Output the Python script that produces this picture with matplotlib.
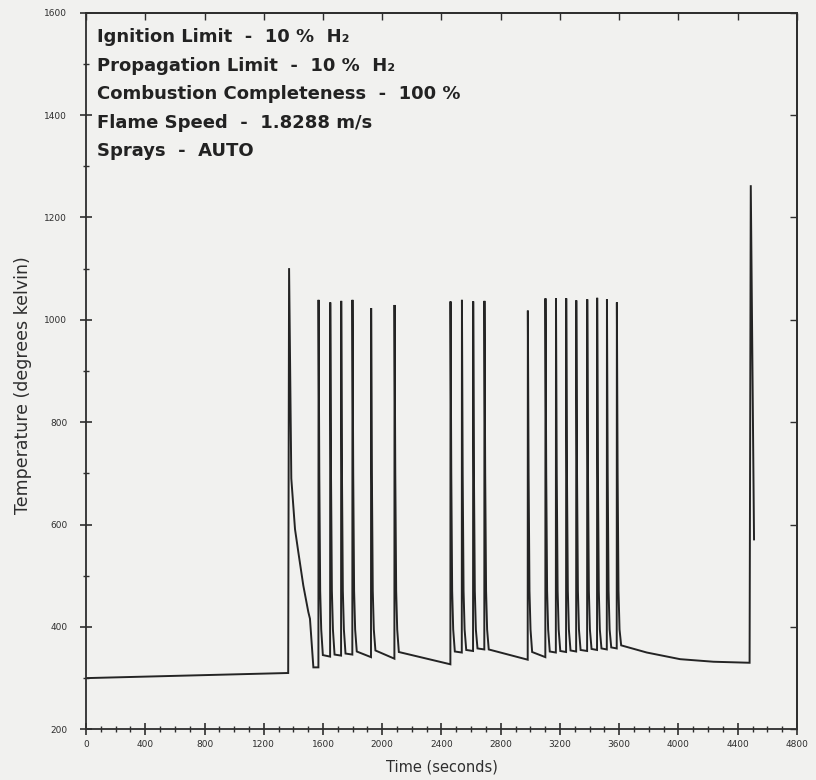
import numpy as np
import matplotlib
matplotlib.use('Agg')
import matplotlib.pyplot as plt
from matplotlib.ticker import MultipleLocator

# values
# initial flat stretch before first burn
start_t = [0, 1365]
start_T = [300, 310]

# first (large) burn and its slow cool-down
big_t = [1371, 1386, 1411, 1434, 1467, 1501, 1512, 1535, 1557]
big_T = [1101, 690, 591, 545, 481, 429, 416, 321, 321]

# repeated burns: time, peak temperature, level before, level after
spike_t = [1569, 1648, 1722, 1798, 1924, 2082, 2460, 2537, 2613, 2689,
           2982, 3101, 3172, 3241, 3309, 3383, 3450, 3516, 3583]
spike_peak = [1039, 1034, 1037, 1039, 1023, 1029, 1036, 1039, 1036, 1037,
              1018, 1042, 1042, 1042, 1038, 1040, 1043, 1040, 1034]
spike_pre = [321, 342, 344, 346, 341, 338, 327, 350, 353, 356,
             336, 341, 350, 351, 352, 353, 355, 356, 358]
spike_post = [345, 346, 348, 352, 354, 351, 352, 355, 358, 356,
              351, 352, 353, 354, 355, 357, 358, 360, 364]

# shape of the falling side of a burn (seconds after peak, temperature)
fall_dt = [5, 11, 18]
fall_T = [700, 470, 395]
tail_dt = 30

# cool-down after the last burn of the series
cool_t = [3786, 4011, 4236, 4480]
cool_T = [350, 337, 332, 330]

# final burn at the end of the run
final_t = [4488, 4510]
final_T = [1263, 571]

annot = ['Ignition Limit  -  10 %  H\u2082',
         'Propagation Limit  -  10 %  H\u2082',
         'Combustion Completeness  -  100 %',
         'Flame Speed  -  1.8288 m/s',
         'Sprays  -  AUTO']

# assemble the trace
t = list(start_t) + list(big_t)
T = list(start_T) + list(big_T)
for i in range(len(spike_t)):
    t += [spike_t[i], spike_t[i] + 1]
    T += [spike_pre[i], spike_peak[i]]
    t += [spike_t[i] + 1 + d for d in fall_dt]
    T += fall_T
    t.append(spike_t[i] + tail_dt)
    T.append(spike_post[i])
t += cool_t + final_t
T += cool_T + final_T

bg = '#f1f1ef'
ink = '#2e2e2e'
fig = plt.figure(figsize=(8.16, 7.8), dpi=100, facecolor=bg)
ax = fig.add_axes([0.1054, 0.065, 0.8713, 0.9187], facecolor=bg)
ax.plot(t, T, color='#242424', lw=1.4, solid_joinstyle='miter')

ax.set_xlim(0, 4800)
ax.set_ylim(200, 1600)
ax.xaxis.set_major_locator(MultipleLocator(400))
ax.xaxis.set_minor_locator(MultipleLocator(100))
ax.yaxis.set_major_locator(MultipleLocator(200))
ax.yaxis.set_minor_locator(MultipleLocator(100))
ax.tick_params(which='major', direction='inout', length=9, width=1.2,
               labelsize=6.5, color=ink, labelcolor=ink, pad=3)
ax.tick_params(axis='y', which='major', pad=9)
ax.tick_params(which='minor', direction='inout', length=4, width=1.0, color=ink)
ax.tick_params(which='both', top=False, right=False)
ax2 = ax.secondary_xaxis('top')
ax2.xaxis.set_major_locator(MultipleLocator(400))
ax2.tick_params(direction='in', length=5, width=1.0, labeltop=False, color=ink)
ax3 = ax.secondary_yaxis('right')
ax3.yaxis.set_major_locator(MultipleLocator(200))
ax3.tick_params(direction='in', length=5, width=1.0, labelright=False, color=ink)
for a in (ax, ax2, ax3):
    for s in a.spines.values():
        s.set_linewidth(1.3)
        s.set_color(ink)

ax.set_xlabel('Time (seconds)', fontsize=10.5, color=ink, labelpad=8)
ax.set_ylabel('Temperature (degrees kelvin)', fontsize=12.5, color=ink)
ax.yaxis.set_label_coords(-0.076, 0.48)

ys = [0.959, 0.918, 0.879, 0.839, 0.800]
for s, y in zip(annot, ys):
    ax.text(0.0155, y, s, transform=ax.transAxes, fontsize=13, fontweight='bold',
            family=['DejaVu Sans'], color='#222222', va='baseline')

fig.savefig('out.png', dpi=100, facecolor=bg)
